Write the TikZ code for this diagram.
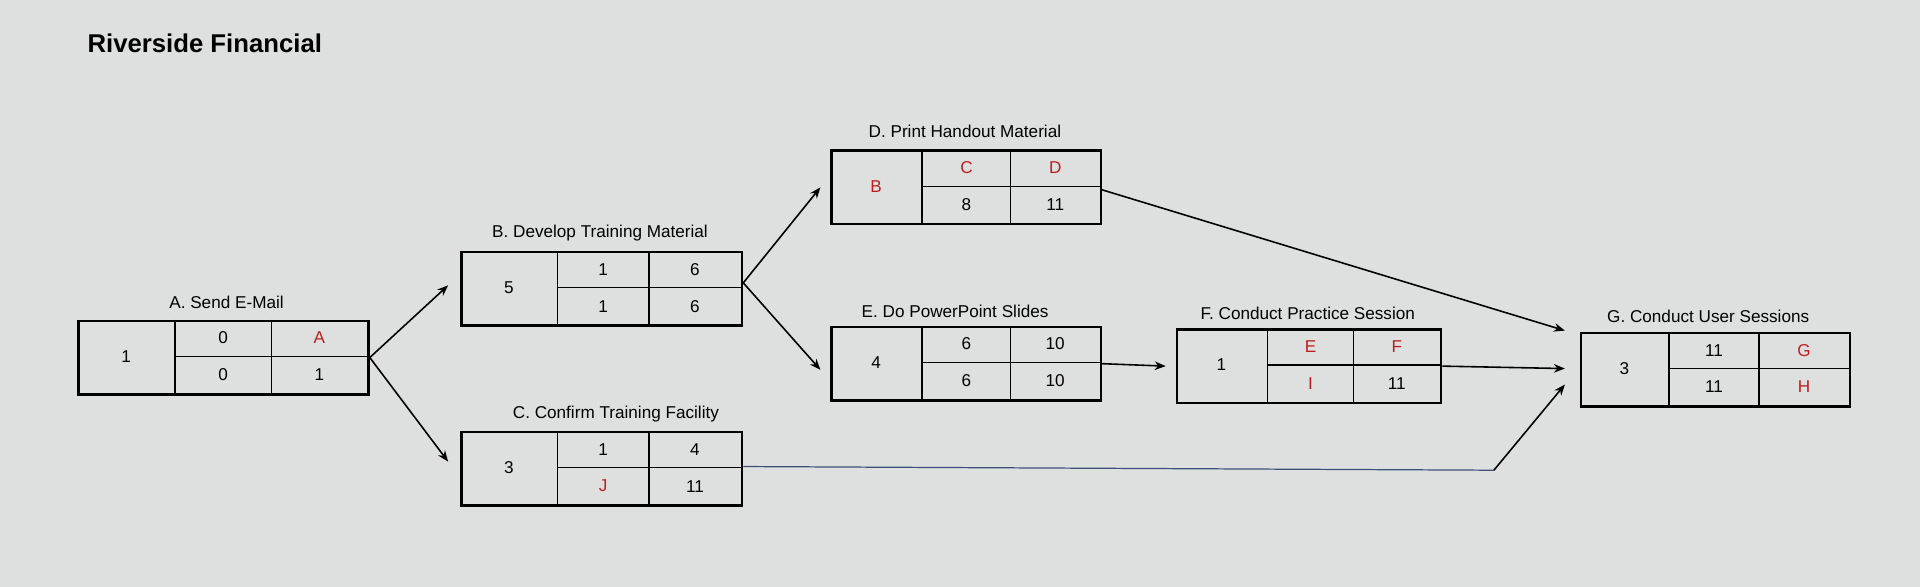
\documentclass[tikz,border=0pt]{standalone}
\usepackage{fontspec}
\setmainfont{Liberation Sans}
\usetikzlibrary{arrows.meta,calc}
\definecolor{bg}{RGB}{222,224,224}
\definecolor{rd}{RGB}{190,30,30}
\definecolor{ln}{RGB}{60,80,120}
\tikzset{box/.style={draw,line width=2pt,inner sep=0pt},
 arr/.style={-{Stealth[length=9pt,width=7pt]},line width=1.3pt},
 lbl/.style={font=\fontsize{14}{16}\selectfont},
 every node/.style={font=\fontsize{14}{16}\selectfont}}
\newcommand\pbox[8]{%
 \node[box,minimum width=#4pt,minimum height=60pt,anchor=north west] (#1) at (#2,#3) {};
 \pgfmathsetmacro\ca{#2+#5}\pgfmathsetmacro\cb{(#2+#5+#2+#4)/2}%
 \pgfmathsetmacro\ma{(\ca+\cb)/2}\pgfmathsetmacro\mb{(\cb+#2+#4)/2}\pgfmathsetmacro\lm{#2+#5/2}%
 \def\yy{#3}%
 \draw[line width=1pt] (\ca,#3)--(\ca,#3+60) (\ca,#3+30)--(#2+#4,#3+30) (\cb,#3)--(\cb,#3+60);
 \node at (\lm,#3+30){#6}; \node at (\ma,#3+15){#7}; \node at (\mb,#3+15){#8};}
\newcommand\pbot[2]{\node at (\ma,\yy+45){#1}; \node at (\mb,\yy+45){#2};}
\newcommand\R[1]{\textcolor{rd}{#1}}
\begin{document}
\begin{tikzpicture}[x=1pt,y=-1pt]
\fill[bg] (0,0) rectangle (1568,479);
\useasboundingbox (0,0) rectangle (1568,479);
\node[anchor=west,font=\fontsize{21}{24}\selectfont\bfseries] (title) at (68,35) {Riverside Financial};
\pbox{A}{63}{261}{237}{80}{1}{0}{\R{A}}\pbot{0}{1}
\node (la) at (185,247) {A. Send E-Mail};
\pbox{B}{376}{205}{229}{79}{5}{1}{6}\pbot{1}{6}
\node (lb) at (490,190) {B. Develop Training Material};
\pbox{C}{376}{352}{229}{79}{3}{1}{4}\pbot{\R{J}}{11}
\node (lc) at (503,338) {C. Confirm Training Facility};
\pbox{D}{678}{122}{220}{75}{\R{B}}{\R{C}}{\R{D}}\pbot{8}{11}
\node (ld) at (788,107) {D. Print Handout Material};
\pbox{E}{678}{266}{220}{75}{4}{6}{10}\pbot{6}{10}
\node (le) at (780,254) {E. Do PowerPoint Slides};
\pbox{F}{960}{268}{216}{75}{1}{\R{E}}{\R{F}}\pbot{\R{I}}{11}
\node (lf) at (1068,256) {F. Conduct Practice Session};
\pbox{G}{1290}{271}{220}{73}{3}{11}{\R{G}}\pbot{11}{\R{H}}
\node (lg) at (1395,258) {G. Conduct User Sessions};
\draw[arr] (A.east) -- ([xshift=-10pt,yshift=3pt]B.west);
\draw[arr] (A.east) -- ([xshift=-10pt,yshift=6pt]C.west);
\draw[arr] ([yshift=5pt]B.east) -- ([xshift=-8pt]D.west);
\draw[arr] ([yshift=5pt]B.east) -- ([xshift=-8pt,yshift=-5pt]E.west);
\draw[arr] ([yshift=-2pt]D.east) -- ([xshift=-12pt,yshift=32pt]G.west);
\draw[arr] (E.east) -- ([xshift=-8pt]F.west);
\draw[arr] (F.east) -- ([xshift=-12pt,yshift=1pt]G.west);
\coordinate (cb) at (1220,384);
\draw[ln,line width=1pt] ([yshift=2pt]C.east) -- (cb);
\draw[arr] (cb) -- ([xshift=-12pt,yshift=-12pt]G.west);
\end{tikzpicture}
\end{document}
